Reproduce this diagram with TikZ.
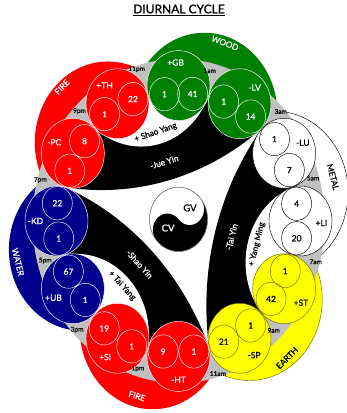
\documentclass[tikz,border=0pt]{standalone}
\usepackage{fontspec}
\setmainfont{Lato}
\newfontfamily\lblfont{Lato}[FakeBold=0.9]
\newfontfamily\smallfont{Lato}[FakeBold=0.5]
\definecolor{firec}{RGB}{255,0,0}
\definecolor{woodc}{RGB}{0,128,0}
\definecolor{waterc}{RGB}{0,0,140}
\definecolor{earthc}{RGB}{255,255,0}
\definecolor{metalc}{RGB}{255,255,255}
\definecolor{ringc}{RGB}{192,192,192}
\definecolor{earthline}{RGB}{110,110,0}
\tikzset{
  titlefont/.style={font=\lblfont\fontsize{12}{14}\selectfont, inner sep=0pt},
  numtxt/.style={font=\lblfont\fontsize{8.5}{10}\selectfont, inner sep=0pt},
  meridtxt/.style={font=\lblfont\fontsize{8.5}{10}\selectfont, inner sep=0pt},
  timetxt/.style={font=\smallfont\fontsize{6.5}{7.5}\selectfont, inner sep=0pt, text=black},
  chantxt/.style={font=\lblfont\fontsize{8.3}{9}\selectfont, inner sep=0pt},
  elemtxt/.style={font=\lblfont\fontsize{8.3}{9}\selectfont, inner sep=0pt},
  yytxt/.style={font=\lblfont\fontsize{9.5}{11}\selectfont, inner sep=0pt},
  thinline/.style={line width=0.45pt},
}
\begin{document}
\begin{tikzpicture}[x=1pt,y=1pt]
\useasboundingbox (0,0) rectangle (346,413);
\fill[white] (0,0) rectangle (346,413);
\node[titlefont, anchor=base] (title) at (179,399.7) {DIURNAL CYCLE};
\draw[line width=0.7pt] ([yshift=-2pt]title.base west) -- ([yshift=-2pt]title.base east);

\begin{scope}[shift={(178.5,192)}, yscale=1.11]
  % element circles
  \fill[firec] (135:100) circle (73);
  \fill[woodc] (75:100) circle (73);
  \fill[waterc] (-165:100) circle (73);
  \fill[firec] (-105:100) circle (73);
  \filldraw[fill=earthc, draw=earthline, thinline] (-45:100) circle (73);
  \filldraw[fill=metalc, draw=black, thinline] (15:100) circle (73);
  % inner swirl
  \begin{scope}
    \clip (0,0) circle (118.5);
    \fill[white] (0,0) circle (118.5);
    \foreach \bis in {105,-15,-135} \fill[black] (\bis:297) circle (259);
    \foreach \bis in {105,-15,-135} \fill[white] (\bis:144.7) circle (72.7);
  \end{scope}
  % gray ring
  \fill[ringc, even odd rule] (0,0) circle (146) (0,0) circle (117.5);
  % meridian circles
  \foreach \mAng/\mFill/\mLine/\mText/\mLab/\mLabA/\mNa/\mSa/\mNb/\mSb/\mName in {
    120/firec/white/white/+TH/128/22/15/1/216/th,
    90/woodc/white/white/+GB/98/1/209/41/-28/gb,
    60/woodc/white/white/-LV/44/1/173/14/-46/lv,
    30/metalc/black/black/-LU/27/1/127/7/-71/lu,
    0/metalc/black/black/+LI/-5/4/104/20/256/li,
    -30/earthc/earthline/black/+ST/-37/1/86/42/215/st,
    -60/earthc/earthline/black/-SP/-46/21/191/1/46/sp,
    -90/firec/white/white/-HT/-90/9/164/1/16/ht,
    -120/firec/white/white/+SI/234/19/146/1/-27/si,
    -150/waterc/white/white/+UB/203/67/106/1/-39/ub,
    180/waterc/white/white/-KD/180/22/87/1/-82/kd,
    150/firec/white/white/-PC/152/8/43/1/259/pc}
  {
    \begin{scope}[shift={(\mAng:122)}]
      \filldraw[fill=\mFill, draw=\mLine, thinline] (0,0) circle (31.5);
      \draw[\mLine, thinline] (\mSa:16) circle (15) (\mSb:16) circle (15);
      \node[numtxt, text=\mText] (\mName-a) at (\mSa:16) {\mNa};
      \node[numtxt, text=\mText] (\mName-b) at (\mSb:16) {\mNb};
      \node[meridtxt, text=\mText] (\mName-l) at (\mLabA:21) {\mLab};
    \end{scope}
  }
  % time labels
  \foreach \tLab/\tAng/\tRad/\tName in {11pm/107/143/t11pm, 1am/77/139/t1am, 3am/44/142/t3am,
      5am/16/140/t5am, 7am/-15/142/t7am, 9am/-46/137/t9am, 11am/-74/143/t11am,
      1pm/-107/139/t1pm, 3pm/-136/141/t3pm, 5pm/-165/138/t5pm, 7pm/165/143/t7pm,
      9pm/135/140/t9pm}
    \node[timetxt] (\tName) at (\tAng:\tRad) {\tLab};
  % channel labels
  \node[chantxt, text=black, rotate=19] (shaoyang) at (106:83) {+ Shao Yang};
  \node[chantxt, text=white, rotate=17] (jueyin) at (105:55) {-Jue Yin};
  \node[chantxt, text=white, rotate=76] (taiyin) at (-15:55) {-Tai Yin};
  \node[chantxt, text=black, rotate=76] (yangming) at (-15:81) {+ Yang Ming};
  \node[chantxt, text=white, rotate=-48] (shaoyin) at (-135:55) {-Shao Yin};
  \node[chantxt, text=black, rotate=-48] (taiyang) at (-134:81) {+ Tai Yang};
  % yin-yang
  \begin{scope}[shift={(0,1.5)}]
    \filldraw[fill=white, draw=gray, thinline] (0,0) circle (29);
    \begin{scope}[rotate=40]
      \fill[black] (29,0) arc[start angle=0,end angle=-180,radius=29]
        arc[start angle=180,end angle=0,radius=14.5]
        arc[start angle=180,end angle=360,radius=14.5] -- cycle;
    \end{scope}
    \draw[gray, thinline] (0,0) circle (29);
    \node[yytxt, text=black] (gv) at (42:15.4) {GV};
    \node[yytxt, text=white] (cv) at (217:13) {CV};
  \end{scope}
\end{scope}
% element labels
\node[elemtxt, text=white, rotate=-21] (woodl) at (225,370) {WOOD};
\node[elemtxt, text=white, rotate=47] (firetl) at (62,326) {FIRE};
\node[elemtxt, text=white, rotate=-76] (waterl) at (18,151) {WATER};
\node[elemtxt, text=white, rotate=-18] (firebl) at (137,17) {FIRE};
\node[elemtxt, text=black, rotate=45] (earthl) at (287,55) {EARTH};
\node[elemtxt, text=black, rotate=-75] (metall) at (333,236) {METAL};
\end{tikzpicture}
\end{document}
